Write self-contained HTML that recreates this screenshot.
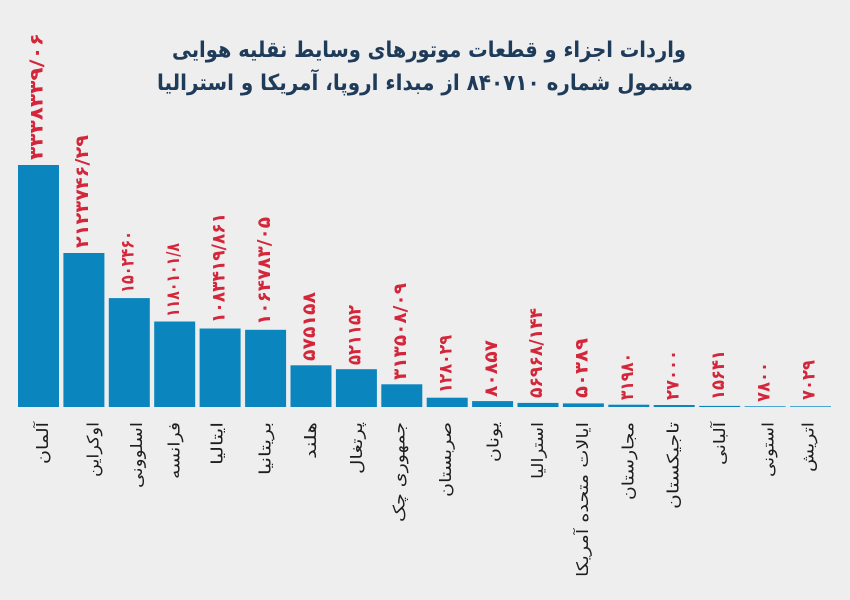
<!DOCTYPE html>
<html lang="fa">
<head>
<meta charset="utf-8">
<style>
  html, body { margin: 0; padding: 0; background: #eeeeee; }
  svg { display: block; }
  .t { font-family: "DejaVu Sans", "Liberation Sans", sans-serif; font-weight: bold; fill: #1f3b5a; font-size: 22px; }
  .v { font-family: "DejaVu Sans", "Liberation Sans", sans-serif; font-weight: bold; fill: #d3263a; font-size: 18px; }
  .c { font-family: "DejaVu Sans", "Liberation Sans", sans-serif; fill: #1e1e1e; font-size: 16px; }
</style>
</head>
<body>
<svg width="850" height="600" viewBox="0 0 850 600" xmlns="http://www.w3.org/2000/svg">
  <rect x="0" y="0" width="850" height="600" fill="#eeeeee"/>

  <!-- Title -->
  <text class="t" x="429" y="57" text-anchor="middle" direction="rtl" textLength="514" lengthAdjust="spacingAndGlyphs">واردات اجزاء و قطعات موتورهای وسایط نقلیه هوایی</text>
  <text class="t" x="425" y="90" text-anchor="middle" direction="rtl" textLength="536" lengthAdjust="spacingAndGlyphs">مشمول شماره ۸۴۰۷۱۰ از مبداء اروپا، آمریکا و استرالیا</text>

  <!-- Bars -->
  <g fill="#0a85bd">
    <rect x="18.0" y="165.0" width="41" height="242"/>
    <rect x="63.4" y="253.0" width="41" height="154"/>
    <rect x="108.8" y="298.1" width="41" height="108.9"/>
    <rect x="154.2" y="321.5" width="41" height="85.5"/>
    <rect x="199.6" y="328.5" width="41" height="78.5"/>
    <rect x="245.1" y="329.8" width="41" height="77.2"/>
    <rect x="290.5" y="365.3" width="41" height="41.7"/>
    <rect x="335.9" y="369.2" width="41" height="37.8"/>
    <rect x="381.3" y="384.3" width="41" height="22.7"/>
    <rect x="426.7" y="397.7" width="41" height="9.3"/>
    <rect x="472.1" y="401.1" width="41" height="5.9"/>
    <rect x="517.5" y="402.9" width="41" height="4.1"/>
    <rect x="562.9" y="403.4" width="41" height="3.6"/>
    <rect x="608.3" y="404.7" width="41" height="2.3"/>
    <rect x="653.7" y="405.0" width="41" height="2.0"/>
    <rect x="699.2" y="405.9" width="41" height="1.1"/>
  </g>
  <g fill="#4aa6d2">
    <rect x="744.6" y="406.0" width="41" height="1"/>
    <rect x="790.0" y="406.0" width="41" height="1"/>
  </g>

  <!-- Value labels -->
  <g class="v">
    <text transform="translate(42.7,160) rotate(-90)" textLength="127" lengthAdjust="spacingAndGlyphs">۳۳۳۸۳۳۹/۰۶</text>
    <text transform="translate(88.1,248) rotate(-90)" textLength="113" lengthAdjust="spacingAndGlyphs">۲۱۲۳۷۴۶/۲۹</text>
    <text transform="translate(133.5,293) rotate(-90)" textLength="62" lengthAdjust="spacingAndGlyphs">۱۵۰۲۴۶۰</text>
    <text transform="translate(178.9,317) rotate(-90)" textLength="74" lengthAdjust="spacingAndGlyphs">۱۱۸۰۱۰۱/۸</text>
    <text transform="translate(224.3,323) rotate(-90)" textLength="110" lengthAdjust="spacingAndGlyphs">۱۰۸۳۴۱۹/۸۶۱</text>
    <text transform="translate(269.8,325) rotate(-90)" textLength="108" lengthAdjust="spacingAndGlyphs">۱۰۶۴۷۸۳/۰۵</text>
    <text transform="translate(315.2,361) rotate(-90)" textLength="69" lengthAdjust="spacingAndGlyphs">۵۷۵۱۵۸</text>
    <text transform="translate(360.6,365) rotate(-90)" textLength="60" lengthAdjust="spacingAndGlyphs">۵۲۱۱۵۲</text>
    <text transform="translate(406,380) rotate(-90)" textLength="97" lengthAdjust="spacingAndGlyphs">۳۱۳۵۰۸/۰۹</text>
    <text transform="translate(451.4,393) rotate(-90)" textLength="58" lengthAdjust="spacingAndGlyphs">۱۲۸۰۲۹</text>
    <text transform="translate(496.8,397) rotate(-90)" textLength="57" lengthAdjust="spacingAndGlyphs">۸۰۸۵۷</text>
    <text transform="translate(542.2,398) rotate(-90)" textLength="90" lengthAdjust="spacingAndGlyphs">۵۶۹۶۸/۱۴۴</text>
    <text transform="translate(587.6,398) rotate(-90)" textLength="60" lengthAdjust="spacingAndGlyphs">۵۰۳۸۹</text>
    <text transform="translate(633,400) rotate(-90)" textLength="47" lengthAdjust="spacingAndGlyphs">۳۱۹۸۰</text>
    <text transform="translate(678.4,400) rotate(-90)" textLength="50" lengthAdjust="spacingAndGlyphs">۲۷۰۰۰</text>
    <text transform="translate(723.9,400) rotate(-90)" textLength="50" lengthAdjust="spacingAndGlyphs">۱۵۶۴۱</text>
    <text transform="translate(769.3,402) rotate(-90)" textLength="40" lengthAdjust="spacingAndGlyphs">۷۸۰۰</text>
    <text transform="translate(814.7,400) rotate(-90)" textLength="40" lengthAdjust="spacingAndGlyphs">۷۰۲۹</text>
  </g>

  <!-- Category labels -->
  <g class="c" text-anchor="end">
    <text transform="translate(47.8,422) rotate(-90)" textLength="42" lengthAdjust="spacingAndGlyphs">آلمان</text>
    <text transform="translate(98.5,422) rotate(-90)" textLength="55" lengthAdjust="spacingAndGlyphs">اوکراین</text>
    <text transform="translate(142,422) rotate(-90)" textLength="66" lengthAdjust="spacingAndGlyphs">اسلوونی</text>
    <text transform="translate(179.5,422) rotate(-90)" textLength="57" lengthAdjust="spacingAndGlyphs">فرانسه</text>
    <text transform="translate(222.5,422) rotate(-90)" textLength="43" lengthAdjust="spacingAndGlyphs">ایتالیا</text>
    <text transform="translate(270.5,422) rotate(-90)" textLength="53" lengthAdjust="spacingAndGlyphs">بریتانیا</text>
    <text transform="translate(316,422) rotate(-90)" textLength="37" lengthAdjust="spacingAndGlyphs">هلند</text>
    <text transform="translate(362,422) rotate(-90)" textLength="52" lengthAdjust="spacingAndGlyphs">پرتغال</text>
    <text transform="translate(404.5,422) rotate(-90)" textLength="100" lengthAdjust="spacingAndGlyphs">جمهوری چک</text>
    <text transform="translate(451.2,422) rotate(-90)" textLength="75" lengthAdjust="spacingAndGlyphs">صربستان</text>
    <text transform="translate(498.5,422) rotate(-90)" textLength="40" lengthAdjust="spacingAndGlyphs">یونان</text>
    <text transform="translate(542.8,422) rotate(-90)" textLength="57" lengthAdjust="spacingAndGlyphs">استرالیا</text>
    <text transform="translate(587.8,422) rotate(-90)" textLength="155" lengthAdjust="spacingAndGlyphs">ایالات متحده آمریکا</text>
    <text transform="translate(633.5,422) rotate(-90)" textLength="78" lengthAdjust="spacingAndGlyphs">مجارستان</text>
    <text transform="translate(678.5,422) rotate(-90)" textLength="87" lengthAdjust="spacingAndGlyphs">تاجیکستان</text>
    <text transform="translate(725,422) rotate(-90)" textLength="43" lengthAdjust="spacingAndGlyphs">آلبانی</text>
    <text transform="translate(773.5,422) rotate(-90)" textLength="55" lengthAdjust="spacingAndGlyphs">استونی</text>
    <text transform="translate(813.5,422) rotate(-90)" textLength="50" lengthAdjust="spacingAndGlyphs">اتریش</text>
  </g>
</svg>
</body>
</html>
